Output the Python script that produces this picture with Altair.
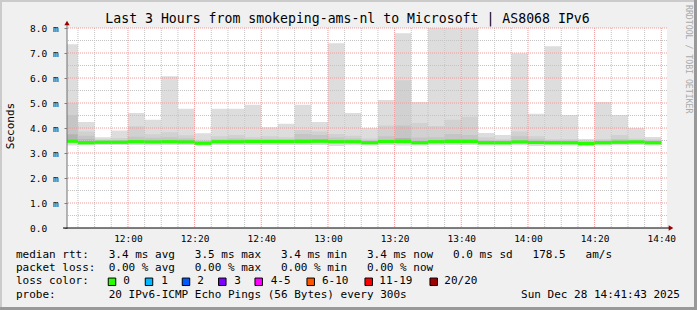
import altair as alt
import pandas as pd

MONO = "DejaVu Sans Mono"
TITLE = "Last 3 Hours from smokeping-ams-nl to Microsoft | AS8068 IPv6"
Y_TITLE = "Seconds"
CREDIT = "RRDTOOL / TOBI OETIKER"
DAY = "2025-12-28"
WINDOW = ("11:41:43", "14:41:43")
FIRST_BAR = "11:40"
STEP = "5min"
X_TICKS = ["12:00", "12:20", "12:40", "13:00", "13:20", "13:40", "14:00", "14:20", "14:40"]
Y_TICKS = [0, 1, 2, 3, 4, 5, 6, 7, 8]
Y_MINOR = [0.5, 1.5, 2.5, 3.5, 4.5, 5.5, 6.5, 7.5]
Y_MAX = 8

# smoke (ms) per 5-minute step
smoke_max = [7.35, 4.24, 3.63, 3.90, 4.60, 4.33, 6.07, 4.77, 3.79, 4.77, 4.77, 4.93,
             4.03, 4.17, 4.93, 4.24, 7.39, 4.60, 4.00, 5.12, 7.79, 5.04, 8.60, 8.60,
             8.60, 3.80, 3.72, 6.99, 4.57, 7.27, 4.52, 3.56, 5.04, 4.52, 4.00, 3.64]
smoke_hi = [5.00, 3.86, 3.55, 3.60, 4.07, 3.75, 3.83, 3.71, 3.53, 3.67, 3.72, 3.63,
            3.67, 3.63, 3.92, 3.86, 3.76, 3.69, 3.58, 4.10, 5.91, 4.20, 4.08, 4.33,
            4.45, 3.63, 3.55, 3.86, 3.67, 3.55, 3.56, 3.50, 3.56, 3.72, 3.58, 3.55]
smoke_mid = [4.52, 3.69, 3.50, 3.52, 3.65, 3.61, 3.63, 3.59, 3.47, 3.55, 3.59, 3.55,
             3.55, 3.55, 3.76, 3.72, 3.62, 3.58, 3.52, 3.67, 4.10, 3.62, 3.63, 3.76,
             3.72, 3.52, 3.50, 3.67, 3.55, 3.50, 3.50, 3.46, 3.50, 3.56, 3.52, 3.50]
smoke_lo = [3.75, 3.55, 3.48, 3.48, 3.52, 3.52, 3.52, 3.52, 3.44, 3.50, 3.52, 3.50,
            3.50, 3.50, 3.55, 3.55, 3.52, 3.50, 3.47, 3.52, 3.60, 3.50, 3.52, 3.55,
            3.55, 3.47, 3.46, 3.52, 3.48, 3.46, 3.46, 3.43, 3.46, 3.50, 3.48, 3.46]
median_ms = [3.47, 3.41, 3.43, 3.43, 3.45, 3.44, 3.45, 3.44, 3.39, 3.45, 3.45, 3.46,
             3.46, 3.46, 3.46, 3.47, 3.45, 3.45, 3.41, 3.46, 3.46, 3.41, 3.45, 3.46,
             3.46, 3.41, 3.41, 3.44, 3.42, 3.41, 3.41, 3.38, 3.41, 3.43, 3.44, 3.41]
smoke_min = [3.30, 3.31, 3.32, 3.32, 3.32, 3.31, 3.32, 3.32, 3.30, 3.32, 3.32, 3.32,
             3.32, 3.32, 3.32, 3.32, 3.28, 3.31, 3.30, 3.32, 3.30, 3.30, 3.31, 3.32,
             3.32, 3.30, 3.30, 3.31, 3.28, 3.30, 3.30, 3.28, 3.30, 3.31, 3.32, 3.30]

LEGEND_LINES = [
    "median rtt:   3.4 ms avg   3.5 ms max   3.4 ms min   3.4 ms now   0.0 ms sd   178.5   am/s",
    "packet loss:  0.00 % avg   0.00 % max   0.00 % min   0.00 % now",
    "loss color:",
    "probe:        20 IPv6-ICMP Echo Pings (56 Bytes) every 300s",
]
STAMP = "Sun Dec 28 14:41:43 2025"
LOSS_LABELS = ["0", "1", "2", "3", "4-5", "6-10", "11-19", "20/20"]
LOSS_COLORS = ["#26ff00", "#00b8ff", "#0059ff", "#7e00ff", "#ff00ff", "#ff5500", "#ff0000", "#a10000"]

# layout (pixels, relative to the plot origin)
W, H = 600, 200
PAD = {"left": 67, "top": 28, "right": 30, "bottom": 82}
LEGEND_Y = [226.5, 240, 253.3, 266.7]
SQUARE_X = [45, 82, 119, 155.3, 191.7, 243.7, 301.7, 366.7]
LABEL_X = [56.3, 94.3, 130.3, 167.3, 203.7, 255, 312.3, 377.3]


def nb(s):
    return s.replace(" ", "\u00a0")


def dt(hm):
    p = [int(v) for v in hm.split(":")] + [0, 0]
    y, m, d = [int(v) for v in DAY.split("-")]
    return alt.DateTime(year=y, month=m, date=d, hours=p[0], minutes=p[1], seconds=p[2], utc=True)


iso = "%Y-%m-%dT%H:%M:%SZ"
starts = pd.date_range(f"{DAY} {FIRST_BAR}", periods=len(smoke_max), freq=STEP)
df = pd.DataFrame({
    "start": starts.strftime(iso),
    "end": (starts + pd.Timedelta(STEP)).strftime(iso),
    "max": smoke_max, "hi": smoke_hi, "mid": smoke_mid, "lo": smoke_lo,
    "median": median_ms, "min": smoke_min,
})

grid_t = pd.date_range(f"{DAY} 11:45", f"{DAY} 14:40", freq=STEP)
minor_x = pd.DataFrame({"t": [t.strftime(iso) for t in grid_t if t.minute % 20 != 0]})
major_x = pd.DataFrame({"t": [t.strftime(iso) for t in grid_t if t.minute % 20 == 0]})
minor_y = pd.DataFrame({"v": Y_MINOR})
major_y = pd.DataFrame({"v": Y_TICKS[1:]})

XS = alt.Scale(type="utc", domain=[dt(WINDOW[0]), dt(WINDOW[1])])
YS = alt.Scale(domain=[0, Y_MAX], nice=False, zero=True)
XA = alt.Axis(values=[dt(t) for t in X_TICKS], labelExpr="utcFormat(datum.value, '%H:%M')",
              title=None, grid=False, ticks=False, domain=False, labelFont=MONO,
              labelFontSize=9.5, labelColor="#000000", labelPadding=5, labelFlush=False)
YA = alt.Axis(values=Y_TICKS, labelExpr="datum.value == 0 ? '0.0' : format(datum.value, '.1f') + '\u00a0m'",
              title=None, grid=False, domain=False, tickSize=3, tickColor="#808080",
              labelAlign="left", labelPadding=34.5, labelFont=MONO, labelFontSize=9.5,
              labelColor="#000000")

base = alt.Chart(df)


def smoke(lo_field, hi_field, color):
    return base.mark_rect(color=color, clip=True).encode(
        x=alt.X("start:T", scale=XS, axis=XA), x2="end:T",
        y=alt.Y(f"{lo_field}:Q", scale=YS, axis=YA), y2=f"{hi_field}:Q")


layers = [
    smoke("min", "max", "#dddddd"),
    smoke("median", "hi", "#d1d1d1"),
    smoke("median", "mid", "#c5c5c5"),
    smoke("median", "lo", "#b3b3b3"),
    alt.Chart(minor_x).mark_rule(color="#c4c4c4", strokeDash=[1, 1]).encode(
        x=alt.X("t:T", scale=XS, axis=XA)),
    alt.Chart(minor_y).mark_rule(color="#c4c4c4", strokeDash=[1, 1]).encode(
        y=alt.Y("v:Q", scale=YS, axis=YA)),
    alt.Chart(major_x).mark_rule(color="#ee9a9a", strokeDash=[1, 1]).encode(
        x=alt.X("t:T", scale=XS, axis=XA)),
    alt.Chart(major_y).mark_rule(color="#ee9a9a", strokeDash=[1, 1]).encode(
        y=alt.Y("v:Q", scale=YS, axis=YA)),
    base.mark_rule(color=LOSS_COLORS[0], strokeWidth=3.2, clip=True, strokeCap="butt").encode(
        x=alt.X("start:T", scale=XS, axis=XA), x2="end:T",
        y=alt.Y("median:Q", scale=YS, axis=YA)),
]

one = alt.Chart(pd.DataFrame({"k": [0]}))


def text(s, x, y, size=11, align="left", angle=0, color="#000000", baseline="middle"):
    return one.mark_text(text=nb(s), font=MONO, fontSize=size, align=align, angle=angle,
                         color=color, baseline=baseline).encode(x=alt.value(x), y=alt.value(y))


# axis lines and arrows
layers += [
    one.mark_rule(color="#707070").encode(x=alt.value(0), y=alt.value(-4), y2=alt.value(H)),
    one.mark_rule(color="#000000").encode(x=alt.value(-4), x2=alt.value(W + 2), y=alt.value(H)),
    one.mark_point(shape="triangle-up", filled=True, size=28, color="#990000", opacity=1).encode(
        x=alt.value(0), y=alt.value(-5)),
    one.mark_point(shape="triangle-right", filled=True, size=28, color="#990000", opacity=1).encode(
        x=alt.value(W + 4), y=alt.value(H)),
]

# frame
TOTAL_W = W + PAD["left"] + PAD["right"]
TOTAL_H = H + PAD["top"] + PAD["bottom"]
L, T = -PAD["left"], -PAD["top"]
layers += [
    one.mark_rule(color="#cbcbcb", strokeWidth=2).encode(
        x=alt.value(L), x2=alt.value(L + TOTAL_W), y=alt.value(T + 1)),
    one.mark_rule(color="#cbcbcb", strokeWidth=2).encode(
        x=alt.value(L + 1), y=alt.value(T), y2=alt.value(T + TOTAL_H)),
    one.mark_rule(color="#999999", strokeWidth=3).encode(
        x=alt.value(L), x2=alt.value(L + TOTAL_W), y=alt.value(T + TOTAL_H - 1.5)),
    one.mark_rule(color="#999999", strokeWidth=3).encode(
        x=alt.value(L + TOTAL_W - 1.5), y=alt.value(T), y2=alt.value(T + TOTAL_H)),
]

# texts
layers += [
    text(TITLE, 280.5, -9, size=13.2, align="center"),
    text(Y_TITLE, -56, 98, size=11, align="center", angle=270),
    text(CREDIT, 620.5, -23, size=8.2, align="left", angle=90, color="#aaaaaa"),
    text(STAMP, 613, LEGEND_Y[3], size=11, align="right"),
]
for line, yy in zip(LEGEND_LINES, LEGEND_Y):
    layers.append(text(line, -51, yy))
for lab, col, sx, lx in zip(LOSS_LABELS, LOSS_COLORS, SQUARE_X, LABEL_X):
    layers.append(one.mark_square(size=56, filled=True, color=col, stroke="#000000",
                                  strokeWidth=1, opacity=1).encode(
        x=alt.value(sx), y=alt.value(LEGEND_Y[2] + 0.5)))
    layers.append(text(lab, lx, LEGEND_Y[2]))

chart = alt.layer(*layers).properties(
    width=W, height=H, background="#f0f0f0", padding=PAD,
    autosize=alt.AutoSizeParams(type="none"),
).configure_view(fill="white", stroke=None)

chart.save("out.html", embed_options={"renderer": "svg", "actions": False})
